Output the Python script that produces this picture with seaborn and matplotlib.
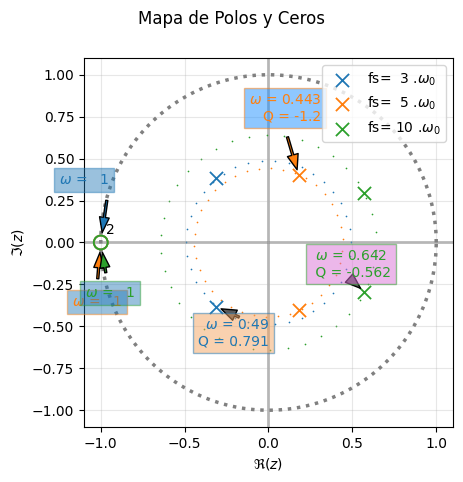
import numpy as np
import pandas as pd
import matplotlib
matplotlib.use("Agg")
import matplotlib.pyplot as plt
import seaborn as sns

# polos de cada discretizacion (parte superior, el conjugado es -im)
fs_labels = ["fs=  3 .$\\omega_0$", "fs=  5 .$\\omega_0$", "fs= 10 .$\\omega_0$"]
colors = ["tab:blue", "tab:orange", "tab:green"]
pole_re = [-0.310, 0.179, 0.571]
pole_im = [0.383, 0.405, 0.293]
omega = [0.49, 0.443, 0.642]
q_factor = [0.791, -1.2, -0.562]
zero_re = -1.0
zero_im = 0.0
zero_order = 2
zero_omega = 1

# anotaciones: signo del polo anotado, posicion del texto, cola de la flecha
pole_sign = [-1, 1, -1]
pole_txt_xy = [(-0.208, -0.539), (0.10, 0.80), (0.491, -0.129)]
pole_tail_xy = [(-0.175, -0.445), (0.113, 0.629), (0.500, -0.230)]
pole_box_fc = ["sandybrown", "dodgerblue", "orchid"]
pole_arrow_fc = ["#5a5a5a", "tab:orange", "#5a5a5a"]
pole_align = ["right", "right", "center"]
zero_txt_xy = [(-1.098, 0.371), (-1.021, -0.353), (-0.946, -0.302)]
zero_tail_xy = [(-0.964, 0.251), (-1.018, -0.216), (-0.970, -0.180)]


def tip(target, tail, gap):
    v = np.array(tail) - np.array(target)
    return tuple(np.array(target) + gap * v / np.hypot(*v))


fig = plt.figure(figsize=(4.63, 4.82), dpi=100)
ax = fig.add_axes([0.1814, 0.1141, 0.797, 0.7656])

theta = np.linspace(0, 2 * np.pi, 400)
unit = pd.DataFrame({"x": np.cos(theta), "y": np.sin(theta)})
sns.lineplot(data=unit, x="x", y="y", sort=False, ax=ax, color="gray",
             linestyle=":", linewidth=2.5, estimator=None)

ax.axhline(0, color="gray", alpha=0.55, lw=2, zorder=1)
ax.axvline(0, color="gray", alpha=0.55, lw=2, zorder=1)

# circulos de radio |p|
ang = np.linspace(0, 2 * np.pi, 38, endpoint=False)
for k, (w, c) in enumerate(zip(omega, colors)):
    a = ang + 0.05 * k
    sns.scatterplot(x=w * np.cos(a), y=w * np.sin(a), color=c, s=1.5,
                    linewidth=0, ax=ax, legend=False)

for re, im, c, lab in zip(pole_re, pole_im, colors, fs_labels):
    sns.scatterplot(x=[re, re], y=[im, -im], marker="x", color=c, s=90,
                    linewidth=1.3, ax=ax, label=lab, zorder=3)

for c in colors:
    sns.scatterplot(x=[zero_re], y=[zero_im], marker="o", facecolors="none",
                    edgecolor=c, s=100, linewidth=1.3, ax=ax, zorder=3)
ax.text(-0.94, 0.072, str(zero_order), ha="center", va="center", fontsize=10)

for i, c in enumerate(colors):
    p = (pole_re[i], pole_sign[i] * pole_im[i])
    ax.annotate("", xy=tip(p, pole_tail_xy[i], 0.03), xytext=pole_tail_xy[i],
                arrowprops=dict(facecolor=pole_arrow_fc[i], edgecolor="k",
                                width=1.5, headwidth=8, headlength=11),
                zorder=4)
    txt = "$\\omega$ = {:.3g}\nQ = {:.3g}".format(omega[i], q_factor[i])
    if pole_align[i] == "center":
        txt = "$\\omega$ = {:.3g}\n Q = {:.3g}".format(omega[i], q_factor[i])
    ax.text(*pole_txt_xy[i], txt, color=c, ha="center", va="center",
            multialignment=pole_align[i], fontsize=10, zorder=5,
            bbox=dict(boxstyle="square,pad=0.35", facecolor=pole_box_fc[i],
                      edgecolor=c, alpha=0.5))

for i, c in enumerate(colors):
    ax.annotate("", xy=tip((zero_re, zero_im), zero_tail_xy[i], 0.06),
                xytext=zero_tail_xy[i],
                arrowprops=dict(facecolor=c, edgecolor="k", width=1.5,
                                headwidth=7, headlength=11),
                zorder=4)
    ax.text(*zero_txt_xy[i], "$\\omega$ =   {}".format(zero_omega), color=c,
            ha="center", va="center", fontsize=10, zorder=5,
            bbox=dict(boxstyle="square,pad=0.35", facecolor="tab:blue",
                      edgecolor=c, alpha=0.45))

ax.set_xlim(-1.1, 1.1)
ax.set_ylim(-1.1, 1.1)
ax.set_aspect("equal")
ax.set_xticks([-1.0, -0.5, 0.0, 0.5, 1.0])
ax.set_yticks(np.arange(-1.0, 1.01, 0.25))
ax.grid(True, alpha=0.3)
ax.set_xlabel("$\\Re(z)$")
ax.set_ylabel("$\\Im(z)$")
ax.legend(loc="upper right")
fig.suptitle("Mapa de Polos y Ceros")

fig.savefig("out.png", dpi=100)
